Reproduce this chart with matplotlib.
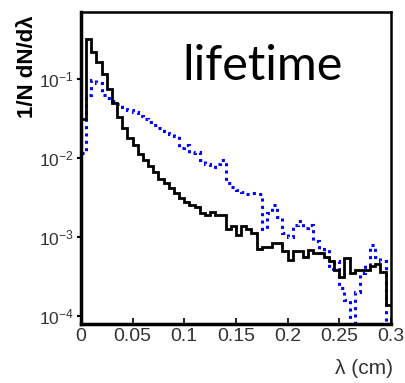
import numpy as np
import matplotlib
matplotlib.use("Agg")
from matplotlib import pyplot as plt
from matplotlib.ticker import LogLocator, NullLocator

plt.rcParams['font.family'] = ['Liberation Sans', 'DejaVu Sans']
plt.rcParams['mathtext.fontset'] = 'custom'
plt.rcParams['mathtext.rm'] = 'Liberation Sans'
plt.rcParams['axes.unicode_minus'] = False

# bin edges in lambda (cm)
edges = np.linspace(0, 0.3, 61)

# log10 of 1/N dN/dlambda
log_black = [-1.5, -0.49, -0.66, -0.78, -0.93, -1.12, -1.3, -1.48, -1.62, -1.75,
             -1.84, -1.95, -2.03, -2.1, -2.18, -2.26, -2.32, -2.38, -2.44, -2.5,
             -2.56, -2.6, -2.62, -2.7, -2.72, -2.68, -2.72, -2.72, -2.9, -2.86,
             -2.97, -2.86, -2.9, -2.95, -3.15, -3.12, -3.13, -3.07, -3.07, -3.18,
             -3.29, -3.18, -3.18, -3.25, -3.16, -3.2, -3.2, -3.25, -3.3, -3.42,
             -3.5, -3.26, -3.45, -3.42, -3.42, -3.42, -3.36, -3.34, -3.44, -3.86]
log_blue = [-1.94, -1.2, -1.01, -1.05, -1.2, -1.24, -1.28, -1.32, -1.35, -1.39,
            -1.42, -1.47, -1.5, -1.54, -1.58, -1.62, -1.66, -1.7, -1.72, -1.87,
            -1.83, -1.94, -1.92, -2.03, -2.08, -2.11, -2.08, -2.03, -2.32, -2.37,
            -2.4, -2.43, -2.46, -2.44, -2.45, -2.9, -2.7, -2.6, -2.75, -2.95,
            -3.0, -2.85, -2.8, -2.88, -2.85, -3.05, -3.2, -3.15, -3.4, -3.3,
            -3.65, -3.8, -4.2, -3.7, -3.45, -3.35, -3.1, -3.25, -3.3, -4.2]

black = 10 ** np.array(log_black)
blue = 10 ** np.array(log_blue)

fig = plt.figure(figsize=(4.05, 3.83), dpi=100)
ax = fig.add_axes([0.2, 0.154, 0.765, 0.815])

ax.stairs(blue, edges, color='#0000ff', linewidth=2.2, linestyle=(0, (1, 1.4)),
          baseline=None)
ax.stairs(black, edges, color='black', linewidth=2.0, baseline=None)

ax.set_yscale('log')
ax.set_xlim(0, 0.3)
ax.set_ylim(10 ** -4.1, 10 ** -0.15)
ax.yaxis.set_major_locator(LogLocator(base=10, numticks=10))
ax.yaxis.set_minor_locator(NullLocator())
ax.set_xticks([0, 0.05, 0.1, 0.15, 0.2, 0.25, 0.3])
ax.set_xticklabels(['0', '0.05', '0.1', '0.15', '0.2', '0.25', '0.3'])
ax.tick_params(axis='x', direction='in', length=4, width=1.2, labelsize=14, pad=3,
               labelcolor='#333333')
ax.tick_params(axis='y', direction='out', length=3, width=1.5, labelsize=12.5, pad=2,
               labelcolor='#333333')

for s in ['left', 'bottom']:
    ax.spines[s].set_linewidth(2.5)
for s in ['top', 'right']:
    ax.spines[s].set_linewidth(1.8)

ax.text(0.587, 0.825, 'lifetime', transform=ax.transAxes, ha='center', va='center',
        fontsize=35, family=['Lato', 'DejaVu Sans'])

fig.text(28 / 405, 1 - 67 / 383, '1/N dN/d\u03bb', rotation=90, ha='center',
         va='center', fontsize=16, fontweight='bold')
fig.text(393 / 405, 1 - 369 / 383, '\u03bb (cm)', ha='right', va='center',
         fontsize=15, color='#333333')

fig.savefig('out.png', dpi=100)
